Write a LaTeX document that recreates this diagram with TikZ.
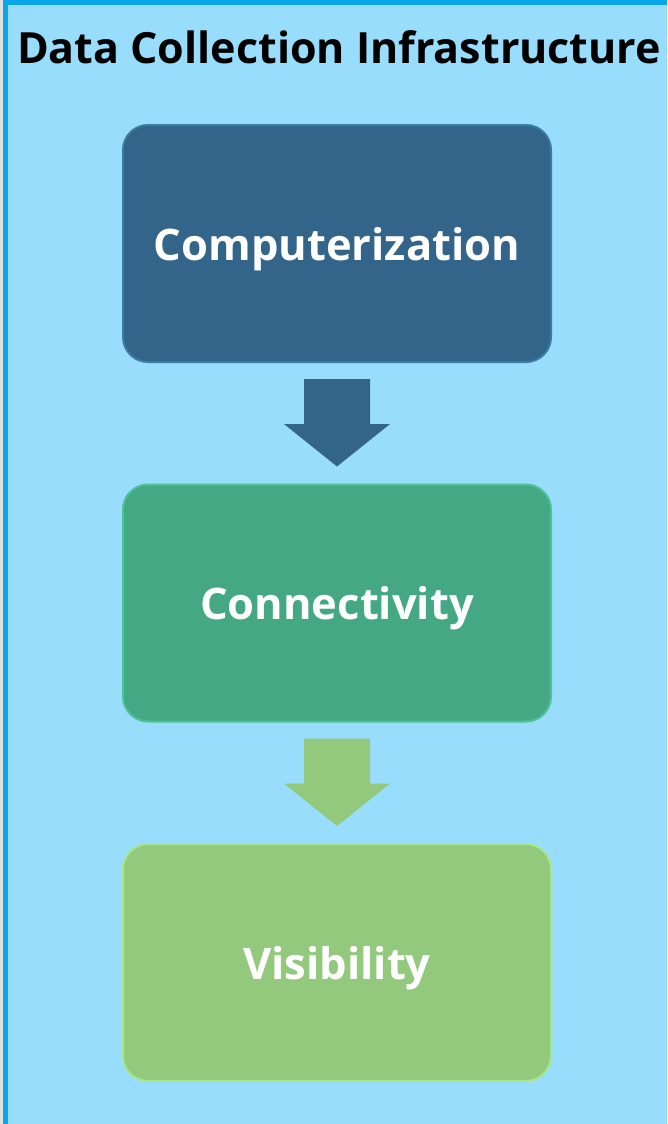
\documentclass[tikz,border=0pt]{standalone}
\usepackage{fontspec}
\setmainfont{Open Sans}
\usetikzlibrary{calc,positioning}
\definecolor{bgblue}{HTML}{98DDFB}
\definecolor{rimblue}{HTML}{0AA6EA}
\definecolor{compfill}{HTML}{336489}
\definecolor{comprim}{HTML}{3A7AA3}
\definecolor{connfill}{HTML}{44A885}
\definecolor{connrim}{HTML}{4EC296}
\definecolor{visfill}{HTML}{93C97D}
\definecolor{visrim}{HTML}{A6E78C}

\begin{document}
\begin{tikzpicture}[line join=round,x=1pt,y=-1pt,
  stepbox/.style={rounded corners=25pt,minimum width=428pt,minimum height=237pt,
    line width=2pt,text=white,text depth=0pt,font=\fontsize{43.5}{52}\selectfont\bfseries},
  blockarrow/.style={to path={($(\tikztostart)+(-33,16)$) -- ($(\tikztostart)+(33,16)$)
    -- ($(\tikztostart)+(33,61)$) -- ($(\tikztostart)+(53,61)$)
    -- ($(\tikztotarget)+(0,-17)$) -- ($(\tikztostart)+(-53,61)$)
    -- ($(\tikztostart)+(-33,61)$) -- cycle}}]
\useasboundingbox (0,0) rectangle (667,1124);
%tausta ja reunat
\fill[bgblue] (0,0) rectangle (667,1124);
\fill[black!12] (0,0) rectangle (3,1124);
\fill[rimblue] (3,0) rectangle (8,1124);
\fill[rimblue] (3,0) rectangle (667,5);
%otsikko
\node (title) at (339,47) {\fontsize{43}{52}\selectfont\bfseries Data Collection Infrastructure};
%laatikot
\node [stepbox,fill=compfill,draw=comprim] (comp) at (337,243.5) {Computerization};
\node [stepbox,fill=connfill,draw=connrim] (conn) at (337,603) {Connectivity};
\node [stepbox,fill=visfill,draw=visrim] (vis) at (337,962.5) {Visibility};
%nuolet
\fill[compfill] (comp.south) to[blockarrow] (conn.north);
\fill[visfill] (conn.south) to[blockarrow] (vis.north);
\end{tikzpicture}
\end{document}
